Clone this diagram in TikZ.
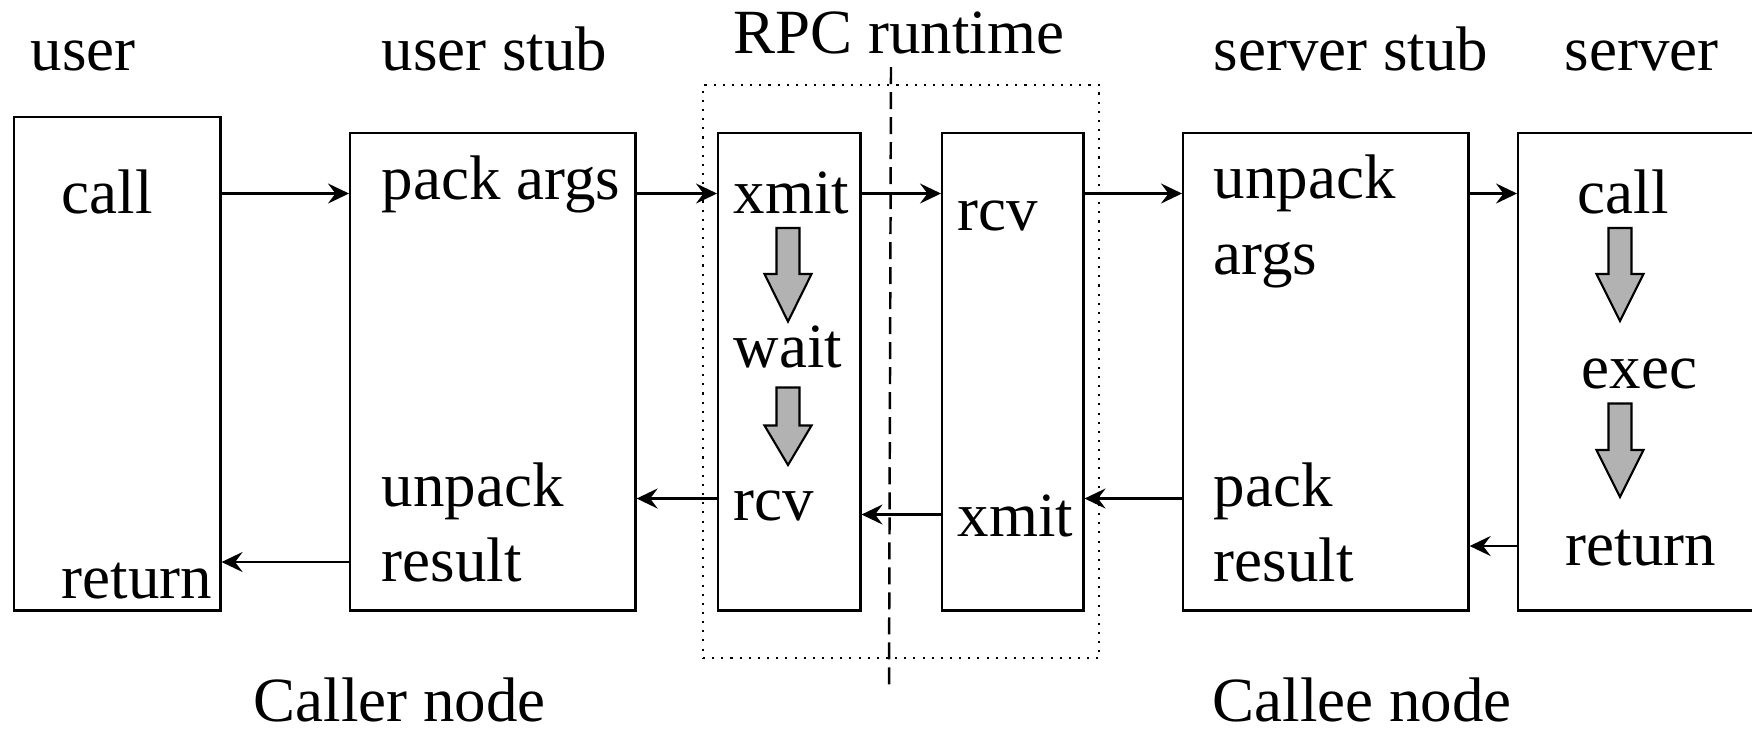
\documentclass[tikz,border=0pt]{standalone}
\usepackage{fontspec}
\setmainfont{Liberation Serif}
\usetikzlibrary{arrows.meta}
\begin{document}
\begin{tikzpicture}[x=0.01cm,y=-0.01cm,
  box/.style={draw, line width=0.7pt, rectangle, inner sep=0pt, anchor=north west},
  lbl/.style={inner sep=0pt, anchor=base west, font=\fontsize{17.9}{21}\selectfont},
  conn/.style={line width=0.7pt, -{Stealth[length=0.21cm, width=0.2cm, inset=0.075cm]}},
  blockarrow/.style={draw, line width=0.6pt, fill=black!30, line join=miter},
  dotbox/.style={draw, line width=0.6pt, dotted, rectangle, inner sep=0pt, anchor=north west},
  divider/.style={line width=0.7pt, dash pattern=on 0.17cm off 0.08cm}]
\useasboundingbox (0,0) rectangle (1752,732);
% boxes
\node[dotbox, minimum width=3.96cm, minimum height=5.73cm] (rt) at (702,84) {};
\node[box, minimum width=2.06cm, minimum height=4.93cm] (user) at (13,116) {};
\node[box, minimum width=2.85cm, minimum height=4.77cm] (ustub) at (349,132) {};
\node[box, minimum width=1.42cm, minimum height=4.77cm] (rtL) at (717,132) {};
\node[box, minimum width=1.41cm, minimum height=4.77cm] (rtR) at (941,132) {};
\node[box, minimum width=2.85cm, minimum height=4.77cm] (sstub) at (1182,132) {};
\node[box, minimum width=2.60cm, minimum height=4.77cm] (server) at (1517,132) {};
% divider
\coordinate (dtop) at (891,67);
\coordinate (dbot) at (889,686);
\draw[divider] (dtop) -- (dbot);
% headings
\node[lbl] (hUser) at (30,70) {user};
\node[lbl] (hUstub) at (381,70) {user stub};
\node[lbl] (hRpc) at (733,53.5) {RPC runtime};
\node[lbl] (hSstub) at (1213,70) {server stub};
\node[lbl] (hServer) at (1564,70) {server};
\node[lbl] (hCaller) at (253,721) {Caller node};
\node[lbl] (hCallee) at (1212,721) {Callee node};
% inside texts
\node[lbl] (uCall) at (61,213) {call};
\node[lbl] (uRet) at (61,598) {return};
\node[lbl] (usPack) at (381,199) {pack args};
\node[lbl] (usUnp1) at (381,506) {unpack};
\node[lbl] (usUnp2) at (381,581) {result};
\node[lbl] (lXmit) at (733,213) {xmit};
\node[lbl] (lWait) at (733,367) {wait};
\node[lbl] (lRcv) at (733,520) {rcv};
\node[lbl] (rRcv) at (957,230) {rcv};
\node[lbl] (rXmit) at (957,536.5) {xmit};
\node[lbl] (ssUnp1) at (1213,198) {unpack};
\node[lbl] (ssUnp2) at (1213,274) {args};
\node[lbl] (ssPack1) at (1213,506) {pack};
\node[lbl] (ssPack2) at (1213,581) {result};
\node[lbl] (sCall) at (1577,213) {call};
\node[lbl] (sExec) at (1581,388) {exec};
\node[lbl] (sRet) at (1565,565) {return};
% block arrows
\draw[blockarrow] (776.5,228) -- (799.5,228) -- (799.5,274) -- (811.5,274) -- (788,321.5) -- (764.5,274) -- (776.5,274) -- cycle;
\draw[blockarrow] (776.5,387.5) -- (799.5,387.5) -- (799.5,425.5) -- (811.5,425.5) -- (788,465) -- (764.5,425.5) -- (776.5,425.5) -- cycle;
\draw[blockarrow] (1608.5,228) -- (1631.5,228) -- (1631.5,274) -- (1643.5,274) -- (1620,321) -- (1596.5,274) -- (1608.5,274) -- cycle;
\draw[blockarrow] (1608.5,403.5) -- (1631.5,403.5) -- (1631.5,450) -- (1643.5,450) -- (1620,497) -- (1596.5,450) -- (1608.5,450) -- cycle;
% rows
\coordinate (rowCall) at (0,193.5);
\coordinate (rowRetA) at (0,498.5);
\coordinate (rowRetB) at (0,514.5);
\coordinate (rowRetS) at (0,546);
\coordinate (rowRetU) at (0,562);
% connectors
\draw[conn] (user.east |- rowCall) -- (ustub.west |- rowCall);
\draw[conn] (ustub.east |- rowCall) -- (rtL.west |- rowCall);
\draw[conn] (rtL.east |- rowCall) -- (rtR.west |- rowCall);
\draw[conn] (rtR.east |- rowCall) -- (sstub.west |- rowCall);
\draw[conn] (sstub.east |- rowCall) -- (server.west |- rowCall);
\draw[conn] (server.west |- rowRetS) -- (sstub.east |- rowRetS);
\draw[conn] (sstub.west |- rowRetA) -- (rtR.east |- rowRetA);
\draw[conn] (rtR.west |- rowRetB) -- (rtL.east |- rowRetB);
\draw[conn] (rtL.west |- rowRetA) -- (ustub.east |- rowRetA);
\draw[conn] (ustub.west |- rowRetU) -- (user.east |- rowRetU);
\end{tikzpicture}
\end{document}
